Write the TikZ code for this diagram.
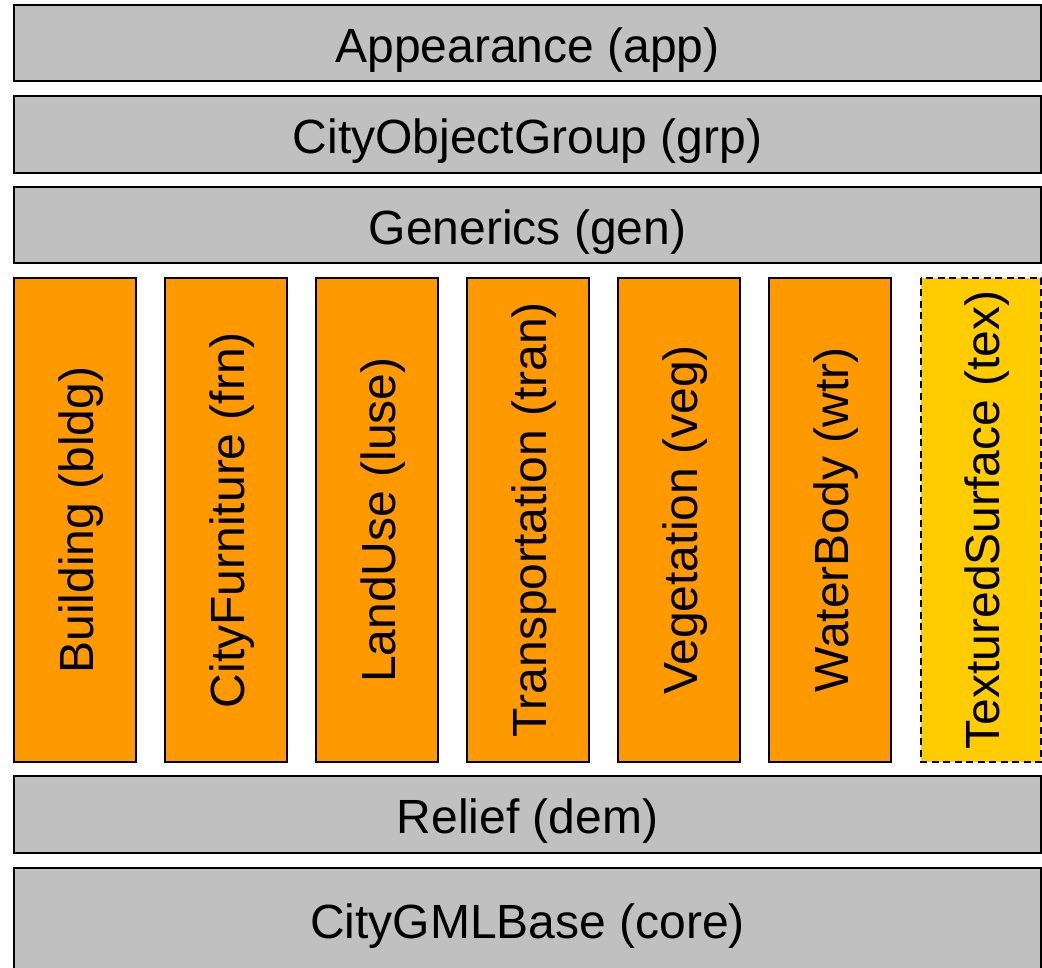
\documentclass[tikz,border=0pt]{standalone}
\usepackage{fontspec}
\setmainfont{Liberation Sans}
\definecolor{boxgray}{HTML}{C0C0C0}
\definecolor{boxorange}{HTML}{FF9900}
\definecolor{boxyellow}{HTML}{FFCC00}
\tikzset{
  gbox/.style={draw=black, line width=2pt, fill=boxgray, rectangle, inner sep=0pt,
    minimum width=1027pt, font=\fontsize{48}{57}\selectfont,
    text height=45.6pt, text depth=6.7pt},
  obox/.style={draw=black, line width=1.5pt, fill=boxorange, rectangle, inner sep=0pt,
    rotate=90, minimum width=484pt, minimum height=122pt, font=\fontsize{48}{57}\selectfont,
    text height=43pt, text depth=7pt},
  tbox/.style={obox, fill=boxyellow, line width=2.5pt, dash pattern=on 7pt off 4.5pt, minimum height=120pt}
}
\begin{document}
\begin{tikzpicture}[x=1pt,y=1pt]
\useasboundingbox (0,-968) rectangle (1042,0);
\node[gbox, minimum height=76pt] (app) at (527.5,-43) {Appearance (app)};
\node[gbox, minimum height=77pt] (grp) at (527.5,-134.5) {CityObjectGroup (grp)};
\node[gbox, minimum height=76pt] (gen) at (527.5,-225) {Generics (gen)};
\node[obox] (bldg) at (75,-520) {Building (bldg)};
\node[obox] (frn) at (226,-520) {CityFurniture (frn)};
\node[obox] (luse) at (377,-520) {LandUse (luse)};
\node[obox] (tran) at (528,-520) {Transportation (tran)};
\node[obox] (veg) at (679,-520) {Vegetation (veg)};
\node[obox] (wtr) at (830,-520) {WaterBody (wtr)};
\node[tbox] (tex) at (981,-520) {TexturedSurface (tex)};
\node[gbox, minimum height=77pt] (dem) at (527.5,-814.5) {Relief (dem)};
\node[gbox, minimum height=102pt] (core) at (527.5,-919) {CityGMLBase (core)};
\end{tikzpicture}
\end{document}
